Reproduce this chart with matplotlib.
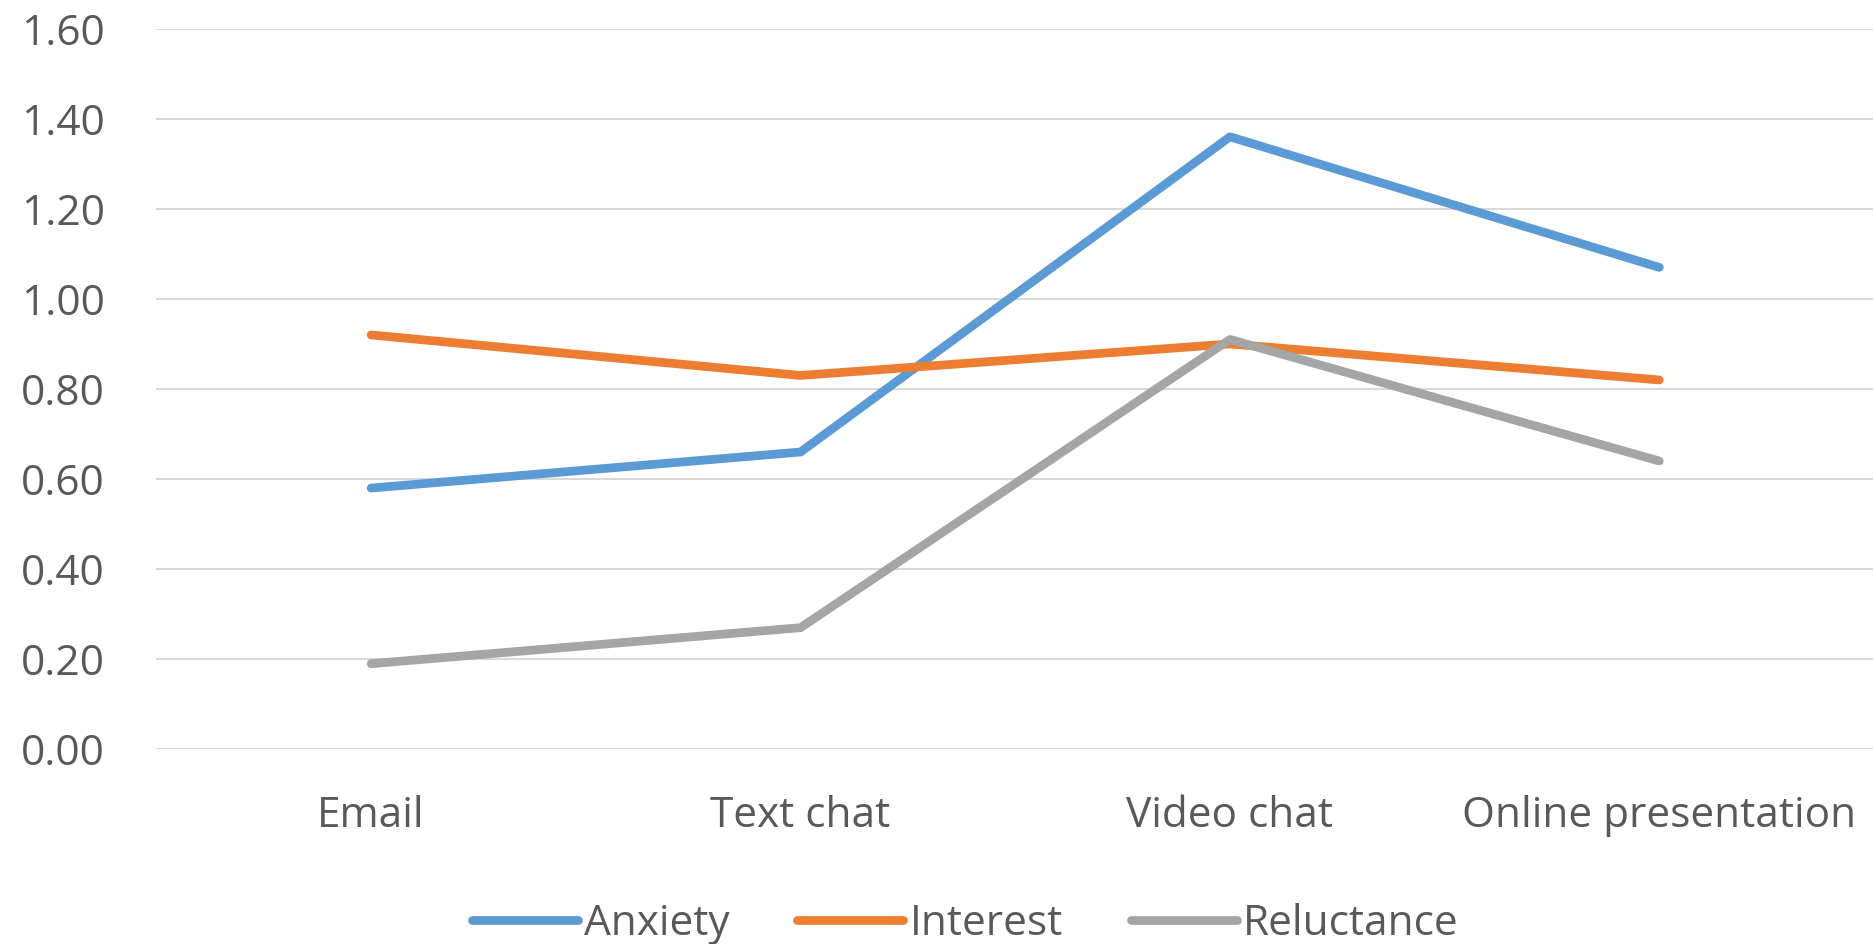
import numpy as np
import matplotlib
matplotlib.use('Agg')
import matplotlib.pyplot as plt

categories = ['Email', 'Text chat', 'Video chat', 'Online presentation']
anxiety = [0.58, 0.66, 1.36, 1.07]
interest = [0.92, 0.83, 0.90, 0.82]
reluctance = [0.19, 0.27, 0.91, 0.64]
yticks = [0.0, 0.2, 0.4, 0.6, 0.8, 1.0, 1.2, 1.4, 1.6]

plt.rcParams['font.family'] = ['Open Sans', 'DejaVu Sans']
txt = '#595959'
fs = 30.5

fig = plt.figure(figsize=(18.74, 9.44), dpi=100)
ax = fig.add_axes([0.0835, 0.2063, 0.9165, 0.7633])

x = np.arange(len(categories))
ax.plot(x, anxiety, color='#5B9BD5', lw=6.3, solid_capstyle='round', label='Anxiety')
ax.plot(x, interest, color='#ED7D31', lw=6.3, solid_capstyle='round', label='Interest')
ax.plot(x, reluctance, color='#A5A5A5', lw=6.3, solid_capstyle='round', label='Reluctance')

ax.set_xlim(-0.5, 3.5)
ax.set_ylim(0, 1.6)
ax.set_yticks(yticks)
ax.set_yticklabels([f'{v:.2f}' for v in yticks])
ax.set_xticks(x)
ax.set_xticklabels(categories)
ax.tick_params(axis='y', length=0, pad=37, labelsize=fs, labelcolor=txt)
ax.tick_params(axis='x', length=0, pad=33, labelsize=fs, labelcolor=txt)
ax.grid(axis='y', color='#D9D9D9', lw=1.5)
ax.set_axisbelow(True)
for s in ax.spines.values():
    s.set_visible(False)

leg = fig.legend(loc='center', bbox_to_anchor=(0.515, 0.021), ncol=3, frameon=False,
                 fontsize=fs, handlelength=2.5, handletextpad=0.15, columnspacing=1.6)
for t in leg.get_texts():
    t.set_color(txt)

fig.savefig('out.png', dpi=100)
